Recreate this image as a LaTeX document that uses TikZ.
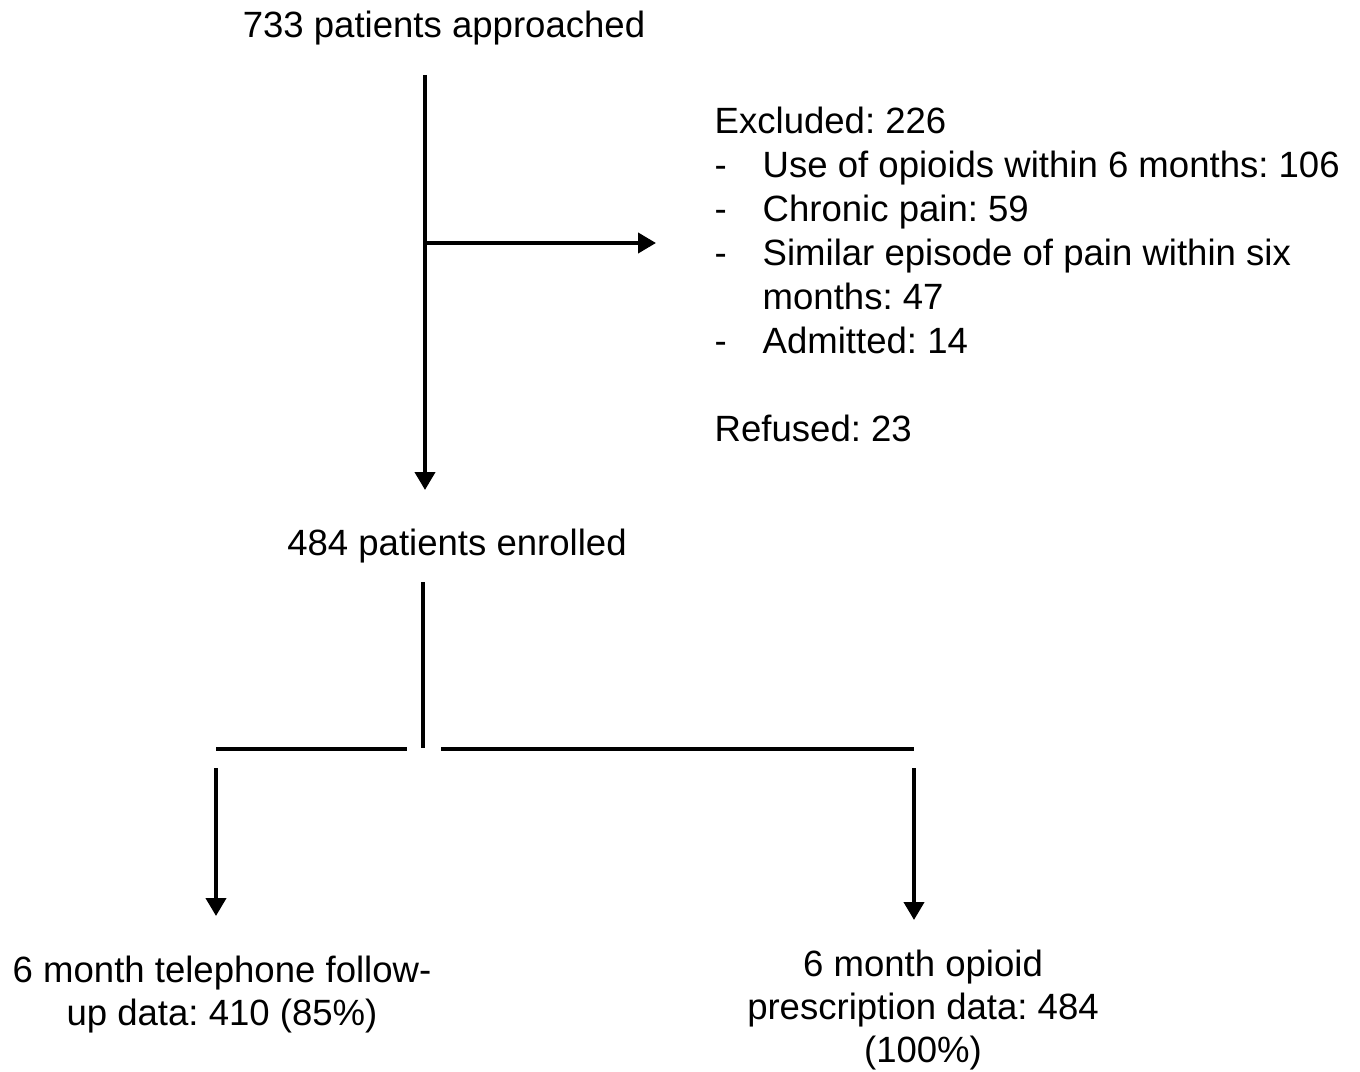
\documentclass[tikz,border=0pt]{standalone}
\usepackage{fontspec}
\setmainfont{Liberation Sans}
\usepackage{tikz}
\usetikzlibrary{arrows.meta, positioning}
\tikzset{
  txt/.style={inner sep=0pt, font=\fontsize{10.4}{12.3}\selectfont\frenchspacing},
  block/.style={txt, align=left, font=\fontsize{10.4}{12.5}\selectfont\frenchspacing},
  cblock/.style={txt, align=center},
  ln/.style={line width=1.15pt},
  arr/.style={ln, -{Triangle[length=1.8mm, width=2mm]}},
}
\newcommand{\dashitem}{\makebox[0.48cm][l]{-}}

\begin{document}
\begin{tikzpicture}
  \useasboundingbox (0,0) rectangle (13.6,-10.71);
  \node[txt, anchor=base] (appr) at (4.44,-0.375) {733 patients approached};
  \node[block, anchor=north west] (excl) at (7.14,-1.065) {Excluded: 226\\
    \dashitem Use of opioids within 6 months: 106\\
    \dashitem Chronic pain: 59\\
    \dashitem Similar episode of pain within six\\
    \hspace*{0.48cm}months: 47\\
    \dashitem Admitted: 14\\[12.5pt]
    Refused: 23};
  \node[txt, anchor=base] (enr) at (4.57,-5.555) {484 patients enrolled};
  \node[cblock, anchor=north] (phone) at (2.22,-9.55) {6 month telephone follow-\\up data: 410 (85\%)};
  \node[cblock, anchor=north] (presc) at (9.23,-9.49) {6 month opioid\\prescription data: 484\\(100\%)};
  % screening
  \coordinate (top) at (4.25,-0.75);
  \coordinate (mid) at (4.25,-2.43);
  \coordinate (out) at (6.56,-2.43);
  \coordinate (bot) at (4.25,-4.90);
  \draw[arr] (top) -- (bot);
  \draw[arr] (mid) -- (out);
  % follow-up split
  \coordinate (stub) at (4.23,-5.82);
  \coordinate (split) at (4.23,-7.48);
  \coordinate (sl) at (2.16,-7.49);
  \coordinate (sl2) at (4.07,-7.49);
  \coordinate (sr) at (4.41,-7.49);
  \coordinate (sr2) at (9.14,-7.49);
  \draw[ln] (stub) -- (split);
  \draw[ln] (sl) -- (sl2);
  \draw[ln] (sr) -- (sr2);
  \coordinate (la) at (2.16,-7.68);
  \coordinate (lb) at (2.16,-9.16);
  \coordinate (ra) at (9.14,-7.68);
  \coordinate (rb) at (9.14,-9.20);
  \draw[arr] (la) -- (lb);
  \draw[arr] (ra) -- (rb);
\end{tikzpicture}
\end{document}
